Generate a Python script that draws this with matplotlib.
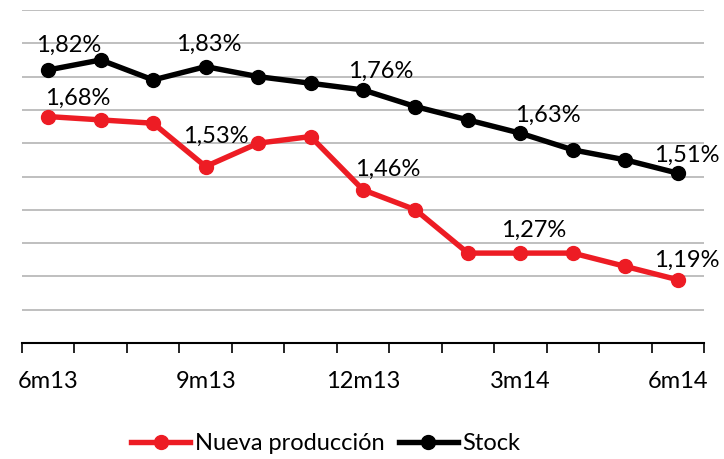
import matplotlib
matplotlib.use('Agg')
import matplotlib.pyplot as plt
import numpy as np

plt.rcParams['font.family'] = ['Lato', 'DejaVu Sans']

# data
meses = ['6m13', '7m13', '8m13', '9m13', '10m13', '11m13', '12m13',
         '1m14', '2m14', '3m14', '4m14', '5m14', '6m14']
nueva = [1.68, 1.67, 1.66, 1.53, 1.60, 1.62, 1.46, 1.40, 1.27, 1.27, 1.27, 1.23, 1.19]
stock = [1.82, 1.85, 1.79, 1.83, 1.80, 1.78, 1.76, 1.71, 1.67, 1.63, 1.58, 1.55, 1.51]
etiquetas_idx = [0, 3, 6, 9, 12]

# label offsets (pixels) for the data labels
off_nueva = [(29, 18), (10, 30), (25, 20), (13, 23), (9, 19)]
off_stock = [(20, 25), (3, 22), (18, 19), (27, 18), (9, 18)]

rojo = '#ED1C24'

fig = plt.figure(figsize=(7.24, 4.59), dpi=100)
ax = fig.add_axes([0.0304, 0.2527, 0.942, 0.7255])

x = np.arange(len(meses))
ax.plot(x, nueva, color=rojo, lw=3.9, marker='o', ms=10, label='Nueva producción',
        solid_joinstyle='round', zorder=3)
ax.plot(x, stock, color='black', lw=3.9, marker='o', ms=10, label='Stock',
        solid_joinstyle='round', zorder=3)

def fmt(v):
    return ('%.2f%%' % v).replace('.', ',')

for k, i in enumerate(etiquetas_idx):
    ax.annotate(fmt(nueva[i]), (x[i], nueva[i]), xytext=off_nueva[k],
                textcoords='offset pixels', ha='center', va='center', fontsize=17)
    ax.annotate(fmt(stock[i]), (x[i], stock[i]), xytext=off_stock[k],
                textcoords='offset pixels', ha='center', va='center', fontsize=17)

ax.set_xlim(-0.5, 12.5)
ax.set_ylim(1.0, 2.0)
ax.set_yticks(np.arange(1.1, 2.01, 0.1))
ax.yaxis.grid(True, color='#BFBFBF', lw=1.4)
ax.set_axisbelow(True)
ax.tick_params(axis='y', length=0, labelleft=False)

ax.set_xticks(x[::3])
ax.set_xticklabels(meses[::3], fontsize=17)
ax.set_xticks(np.arange(-0.5, 13, 1), minor=True)
ax.tick_params(axis='x', which='major', length=0, pad=20)
ax.tick_params(axis='x', which='minor', length=7, width=1.2, direction='out')

for s in ['top', 'right', 'left']:
    ax.spines[s].set_visible(False)
ax.spines['bottom'].set_linewidth(1.5)

fig.legend(loc='center', bbox_to_anchor=(0.45, 1 - 444 / 459), ncol=2, frameon=False,
           fontsize=17, handlelength=2.5, handletextpad=0.2, columnspacing=0.6)

fig.savefig('out.png', dpi=100)
